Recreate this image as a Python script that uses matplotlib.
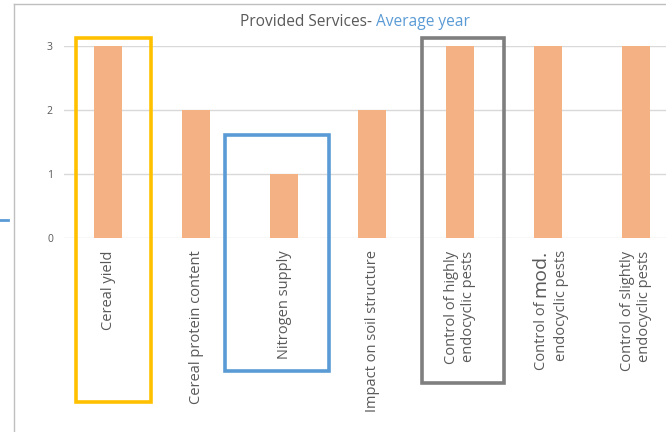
import matplotlib.pyplot as plt
from matplotlib.patches import Rectangle
from matplotlib.lines import Line2D
from matplotlib.transforms import blended_transform_factory, offset_copy

services = ['Cereal yield', 'Cereal protein content', 'Nitrogen supply',
            'Impact on soil structure', 'Control of highly\nendocyclic pests',
            'Control of mod.\nendocyclic pests', 'Control of slightly\nendocyclic pests']
scores = [3, 2, 1, 2, 3, 3, 3]
yticks = [0, 1, 2, 3]

plt.rcParams['font.family'] = ['Open Sans', 'DejaVu Sans']
grey = '#595959'

fig = plt.figure(figsize=(6.66, 4.32), dpi=100)
ax = fig.add_axes([64 / 666, 194 / 432, 616 / 666, 192 / 432])

x = list(range(len(services)))
ax.bar(x, scores, width=0.31, color='#F4B183', zorder=2)
ax.set_xlim(-0.5, 6.5)
ax.set_ylim(0, 3)
ax.set_yticks(yticks)
ax.yaxis.grid(True, color='#D9D9D9', lw=1, zorder=0)
ax.set_axisbelow(True)
for s in ax.spines.values():
    s.set_visible(False)

# the "mod." label is drawn by hand below, it has a bigger word in it
labels = [l if 'mod.' not in l else '' for l in services]
ax.set_xticks(x)
ax.set_xticklabels(labels, rotation=90, va='top', ha='center',
                   fontsize=10.5, color=grey, multialignment='right')
ax.tick_params(axis='x', length=0, pad=9)
ax.tick_params(axis='y', length=0, pad=8, labelsize=7.5, labelcolor=grey)

i = services.index('Control of mod.\nendocyclic pests')
trans = blended_transform_factory(ax.transData, ax.transAxes)
t_top = offset_copy(trans, fig=fig, x=0, y=-8.5, units='points')
kw = dict(rotation=90, rotation_mode='anchor', ha='right', va='baseline', color=grey)
ax.text(i + 0.19, 0, 'endocyclic pests', transform=t_top, fontsize=10.5, **kw)
mod = ax.text(i - 0.035, 0, 'mod.', transform=t_top, fontsize=14, **kw)
fig.canvas.draw()
h = mod.get_window_extent().height * 72 / fig.dpi
t_low = offset_copy(trans, fig=fig, x=0, y=-8.5 - h - 3, units='points')
ax.text(i - 0.035, 0, 'Control of', transform=t_low, fontsize=10.5, **kw)

# title in two colours
fig.text(376 / 666, 1 - 22 / 432, 'Provided Services- ', ha='right', va='center',
         fontsize=11.2, color=grey)
fig.text(376 / 666, 1 - 22 / 432, 'Average year', ha='left', va='center',
         fontsize=11.2, color='#5B9BD5')

# highlight boxes
boxes = [(-0.364, 0.489, -2.56, 3.125, '#FFC000'),
         (1.33, 2.511, -2.08, 1.61, '#5B9BD5'),
         (3.568, 4.5, -2.27, 3.125, '#7F7F7F')]
for x0, x1, y0, y1, c in boxes:
    ax.add_patch(Rectangle((x0, y0), x1 - x0, y1 - y0, fill=False, ec=c,
                           lw=2.6, clip_on=False, zorder=5))

# chart frame
fig.add_artist(Line2D([14 / 666, 14 / 666], [0, 1 - 4 / 432], color='#BFBFBF', lw=1))
fig.add_artist(Line2D([14 / 666, 1], [1 - 4 / 432, 1 - 4 / 432], color='#BFBFBF', lw=1))
fig.add_artist(Line2D([0, 8 / 666], [1 - 220 / 432, 1 - 220 / 432], color='#5B9BD5', lw=2))

fig.savefig('out.png', dpi=100)
